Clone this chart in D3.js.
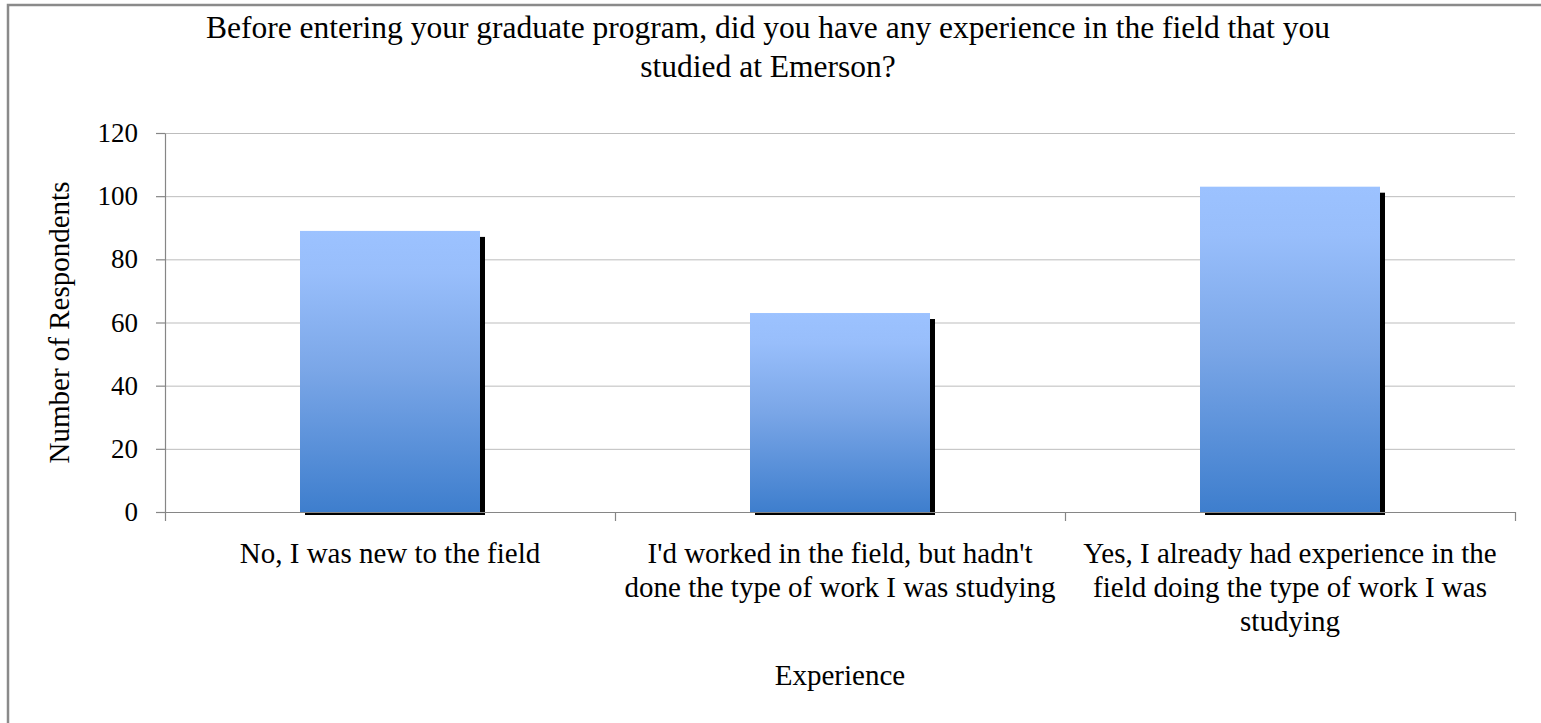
<!DOCTYPE html>
<html>
<head>
<meta charset="utf-8">
<style>
  body { margin: 0; background: #fff; }
  svg { display: block; font-family: "Liberation Serif", "Times New Roman", serif; }
  .frame { fill: #fff; stroke: #8a8a8a; stroke-width: 2.5px; }
  .grid line { stroke: #bdbdbd; stroke-width: 1px; }
  .grid .domain { display: none; }
  .axis .domain, .axis line { stroke: #868686; stroke-width: 1.2px; }
  .axis text { fill: #000; font-size: 27px; font-family: "Liberation Serif", "Times New Roman", serif; }
  .cat-label { font-size: 29px; fill: #000; text-anchor: middle; }
  .title { font-size: 31.5px; fill: #000; text-anchor: middle; }
  .axis-title { font-size: 29px; fill: #000; text-anchor: middle; }
  .shadow { fill: #000; }
</style>
</head>
<body>
<div id="chart"></div>
<script src="https://cdn.jsdelivr.net/npm/d3@7"></script>
<script>
// data
var categories = [
  ["No, I was new to the field"],
  ["I'd worked in the field, but hadn't", "done the type of work I was studying"],
  ["Yes, I already had experience in the", "field doing the type of work I was", "studying"]
];
var respondents = [89, 63, 103];
var yTicks = [0, 20, 40, 60, 80, 100, 120];
var titleLines = [
  "Before entering your graduate program, did you have any experience in the field that you",
  "studied at Emerson?"
];
var xTitle = "Experience";
var yTitle = "Number of Respondents";

var W = 1541, H = 723;
var plot = { left: 165, right: 1515, top: 133, bottom: 512 };

var svg = d3.select("#chart").append("svg")
  .attr("width", W)
  .attr("height", H);

// gradient for the bars
var grad = svg.append("defs").append("linearGradient")
  .attr("id", "barGrad")
  .attr("x1", 0).attr("y1", 0).attr("x2", 0).attr("y2", 1);
grad.append("stop").attr("offset", "0").attr("stop-color", "#9cc2ff");
grad.append("stop").attr("offset", "0.15").attr("stop-color", "#98befb");
grad.append("stop").attr("offset", "0.5").attr("stop-color", "#7aa6e7");
grad.append("stop").attr("offset", "1").attr("stop-color", "#3e7ecd");

// outer frame (right and bottom edges fall outside the picture)
svg.append("rect")
  .attr("class", "frame")
  .attr("x", 8).attr("y", 5)
  .attr("width", W + 20).attr("height", H + 20);

var idx = d3.range(categories.length);

var x = d3.scaleBand()
  .domain(idx)
  .range([plot.left, plot.right])
  .paddingInner(0.6)
  .paddingOuter(0.3);

var y = d3.scaleLinear()
  .domain([0, 120])
  .range([plot.bottom, plot.top]);

// gridlines
svg.append("g")
  .attr("class", "grid")
  .attr("transform", "translate(" + plot.left + ",0)")
  .call(d3.axisLeft(y).tickValues(yTicks.slice(1)).tickSize(-(plot.right - plot.left)).tickFormat(""));

// shadows then bars
svg.append("g").selectAll("rect")
  .data(respondents)
  .enter().append("rect")
  .attr("class", "shadow")
  .attr("x", function (d, i) { return x(i) + 5; })
  .attr("y", function (d) { return y(d) + 6; })
  .attr("width", x.bandwidth())
  .attr("height", function (d) { return y(0) - y(d) - 3; });

svg.append("g").selectAll("rect")
  .data(respondents)
  .enter().append("rect")
  .attr("fill", "url(#barGrad)")
  .attr("x", function (d, i) { return x(i); })
  .attr("y", function (d) { return y(d); })
  .attr("width", x.bandwidth())
  .attr("height", function (d) { return y(0) - y(d); });

// y axis
svg.append("g")
  .attr("class", "axis")
  .attr("transform", "translate(" + plot.left + ",0)")
  .call(d3.axisLeft(y).tickValues(yTicks).tickSize(9).tickPadding(18).tickSizeOuter(0));

// x axis with ticks between categories
var bounds = d3.scaleLinear().domain([0, categories.length]).range([plot.left, plot.right]);
svg.append("g")
  .attr("class", "axis")
  .attr("transform", "translate(0," + plot.bottom + ")")
  .call(d3.axisBottom(bounds).tickValues(d3.range(categories.length + 1)).tickSize(9).tickSizeOuter(0).tickFormat(""));

// category labels
var labels = svg.append("g").selectAll("text")
  .data(categories)
  .enter().append("text")
  .attr("class", "cat-label")
  .attr("transform", function (d, i) { return "translate(" + (x(i) + x.bandwidth() / 2) + ",563)"; });
labels.selectAll("tspan")
  .data(function (d) { return d; })
  .enter().append("tspan")
  .attr("x", 0)
  .attr("y", function (d, j) { return j * 34; })
  .text(function (d) { return d; });

// title
svg.append("text")
  .attr("class", "title")
  .selectAll("tspan")
  .data(titleLines)
  .enter().append("tspan")
  .attr("x", 768)
  .attr("y", function (d, i) { return 38 + i * 38.5; })
  .text(function (d) { return d; });

// axis titles
svg.append("text")
  .attr("class", "axis-title")
  .attr("x", (plot.left + plot.right) / 2)
  .attr("y", 685)
  .text(xTitle);

svg.append("text")
  .attr("class", "axis-title")
  .attr("transform", "translate(69," + (plot.top + plot.bottom) / 2 + ") rotate(-90)")
  .text(yTitle);
</script>
</body>
</html>
